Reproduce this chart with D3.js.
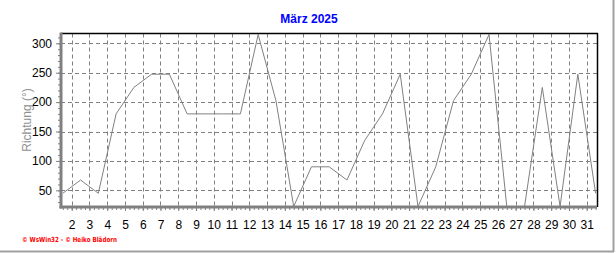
<!DOCTYPE html>
<html><head><meta charset="utf-8">
<script src="https://cdn.jsdelivr.net/npm/d3@7"></script>
<style>body{margin:0;background:#fff}svg{display:block}</style>
</head><body>
<script>
const title = "März 2025";
const yTitle = "Richtung (°)";
const footer = "© WsWin32 - © Heiko Blädorn";
const days = d3.range(1, 32);
const direction = [45, 67.5, 45, 180, 225, 247.5, 247.5, 180, 180, 180, 180, 315, 202.5, 22.5, 90, 90, 67.5, 135, 180, 247.5, 22.5, 90, 202.5, 247.5, 315, 22.5, 22.5, 225, 22.5, 247.5, 45];
const xTickLabels = d3.range(2, 32);
const yTicks = [50, 100, 150, 200, 250, 300];

const W = 616, H = 253;
const L = 61, R = 597, T = 33.5, B = 207;
const svg = d3.select("body").append("svg").attr("width", W).attr("height", H);

const x = d3.scaleLinear().domain([1.397, 31.58]).range([L, R]);
const y = d3.scaleLinear().domain([22.5, 315]).range([206.5, 34.5]);

// frame
svg.append("line").attr("x1", 613.5).attr("x2", 613.5).attr("y1", 0).attr("y2", 252).attr("stroke", "#a0a0a0").attr("stroke-width", 2);
svg.append("line").attr("x1", 0).attr("x2", 614).attr("y1", 251.5).attr("y2", 251.5).attr("stroke", "#a0a0a0").attr("stroke-width", 2);

// grid
const grid = svg.append("g").attr("stroke", "#808080").attr("stroke-dasharray", "4,3").attr("stroke-width", 1);
xTickLabels.forEach(k => {
  const px = Math.round(x(k)) + 0.5;
  grid.append("line").attr("x1", px).attr("x2", px).attr("y1", T).attr("y2", B);
});
yTicks.forEach(v => {
  const py = Math.round(y(v)) + 0.5;
  grid.append("line").attr("x1", L).attr("x2", R).attr("y1", py).attr("y2", py);
});

// data line
const clip = svg.append("clipPath").attr("id", "c").append("rect").attr("x", L).attr("y", T).attr("width", R - L).attr("height", B - T);
svg.append("path").attr("clip-path", "url(#c)")
  .datum(days.map((d, i) => [d + 0.5, direction[i]]))
  .attr("fill", "none").attr("stroke", "#808080").attr("stroke-width", 1)
  .attr("d", d3.line().x(d => x(d[0])).y(d => y(d[1])));

// top/right border
svg.append("line").attr("x1", L).attr("x2", R + 1).attr("y1", T).attr("y2", T).attr("stroke", "#000").attr("stroke-width", 1.5);
svg.append("line").attr("x1", R + 0.5).attr("x2", R + 0.5).attr("y1", T).attr("y2", B).attr("stroke", "#000").attr("stroke-width", 1.5);

// x axis
const xMinor = d3.range(1.5, 31.6, 0.25).filter(v => x(v) > L + 1 && x(v) < R);
const xa = svg.append("g").attr("transform", `translate(0,${B})`)
  .call(d3.axisBottom(x).tickValues(xMinor).tickSize(3).tickFormat(""));
xa.select(".domain").remove();
xa.selectAll(".tick line").attr("stroke", "#808080");
const xl = svg.append("g").attr("transform", `translate(0,${B})`)
  .call(d3.axisBottom(x).tickValues(xTickLabels).tickSize(4).tickPadding(9).tickFormat(d3.format("d")));
xl.select(".domain").remove();
xl.selectAll(".tick line").attr("stroke", "#808080");
xl.selectAll("text").attr("font-family", "Liberation Sans, Arial, sans-serif").attr("font-size", 12).attr("fill", "#000");
svg.append("line").attr("x1", L - 1.5).attr("x2", R).attr("y1", B).attr("y2", B).attr("stroke", "#808080").attr("stroke-width", 3);

// y axis
const yMinor = d3.range(30, 316, 10);
const ya = svg.append("g").attr("transform", `translate(${L},0)`)
  .call(d3.axisLeft(y).tickValues(yMinor).tickSize(3).tickFormat(""));
ya.select(".domain").remove();
ya.selectAll(".tick line").attr("stroke", "#808080");
const yl = svg.append("g").attr("transform", `translate(${L},0)`)
  .call(d3.axisLeft(y).tickValues(yTicks).tickSize(5).tickPadding(4).tickFormat(d3.format("d")));
yl.select(".domain").remove();
yl.selectAll(".tick line").attr("stroke", "#808080");
yl.selectAll("text").attr("font-family", "Liberation Sans, Arial, sans-serif").attr("font-size", 12).attr("fill", "#000");
svg.append("line").attr("x1", L).attr("x2", L).attr("y1", T - 1).attr("y2", B + 1.5).attr("stroke", "#808080").attr("stroke-width", 3);

// titles
svg.append("text").attr("x", 309).attr("y", 23).attr("text-anchor", "middle")
  .attr("font-family", "Liberation Sans, Arial, sans-serif").attr("font-size", 12).attr("font-weight", "bold")
  .attr("fill", "#0000ff").text(title);
svg.append("text").attr("transform", "translate(31,120) rotate(-90)").attr("text-anchor", "middle")
  .attr("font-family", "Liberation Sans, Arial, sans-serif").attr("font-size", 12)
  .attr("fill", "#909090").text(yTitle);
svg.append("text").attr("x", 22).attr("y", 242)
  .attr("font-family", "DejaVu Sans, sans-serif").attr("font-size", 7).attr("font-weight", "bold")
  .attr("textLength", 95).attr("lengthAdjust", "spacingAndGlyphs")
  .attr("fill", "#ff0000").text(footer);
</script>
</body></html>
